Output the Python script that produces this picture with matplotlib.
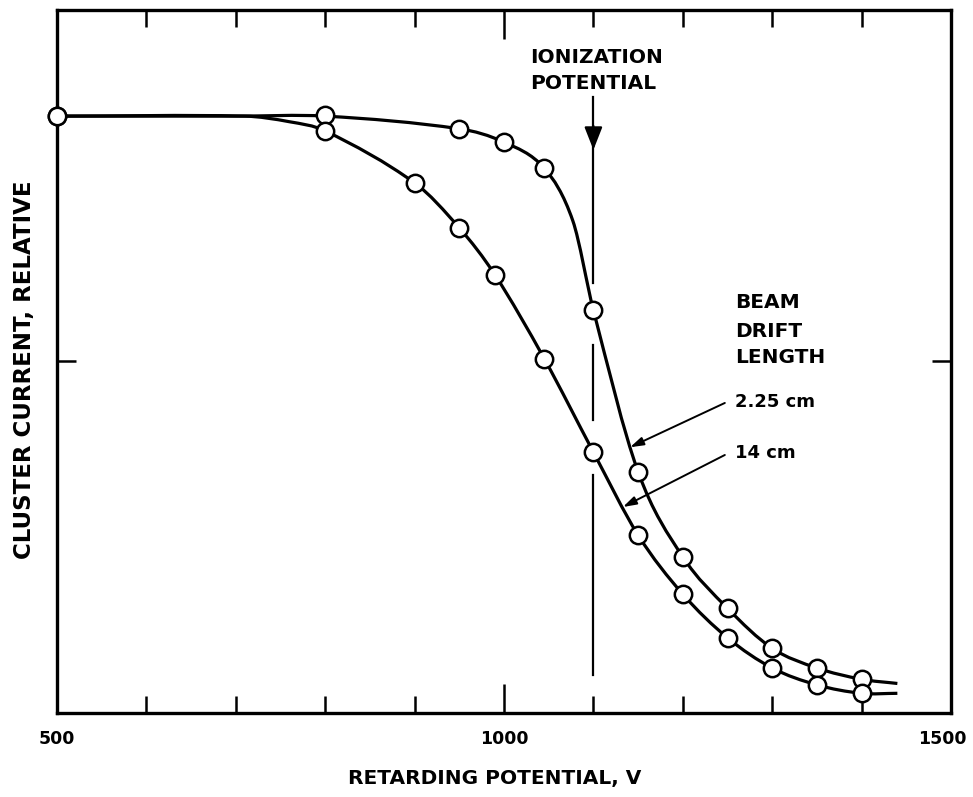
import matplotlib

matplotlib.use("Agg")
import matplotlib.pyplot as plt
import numpy as np
from matplotlib.patches import PathPatch
from matplotlib.path import Path
from matplotlib.transforms import ScaledTranslation

# measured points (retarding potential in V, relative cluster current)
x_short = [500, 800, 950, 1000, 1045, 1100, 1150, 1200, 1250, 1300, 1350, 1400]
y_short = [0.849, 0.850, 0.831, 0.812, 0.775, 0.573, 0.343, 0.222, 0.149, 0.092, 0.064, 0.048]
x_long = [500, 800, 900, 950, 990, 1045, 1100, 1150, 1200, 1250, 1300, 1350, 1400]
y_long = [0.849, 0.828, 0.754, 0.690, 0.623, 0.504, 0.371, 0.253, 0.169, 0.107, 0.064, 0.040, 0.028]

# hand-drawn curves
curve_short_x = [500, 700, 800, 950, 1000, 1045, 1077, 1100, 1150, 1200, 1250, 1300, 1350, 1400, 1440]
curve_short_y = [0.849, 0.849, 0.849, 0.831, 0.812, 0.775, 0.700, 0.573, 0.343, 0.222, 0.149, 0.092, 0.064, 0.048, 0.042]
curve_long_x = [500, 710, 760, 800, 900, 950, 990, 1045, 1100, 1150, 1200, 1250, 1300, 1350, 1400, 1440]
curve_long_y = [0.849, 0.849, 0.841, 0.828, 0.754, 0.690, 0.623, 0.504, 0.371, 0.253, 0.169, 0.107, 0.064, 0.040, 0.028, 0.028]

ionization_v = 1100
tick_values = [500, 1000, 1500]

LABEL_FONT = ["DejaVu Sans"]


def smooth_path(xs, ys):
    # cubic Hermite through the traced points, written as Bezier segments
    x = np.asarray(xs, float)
    y = np.asarray(ys, float)
    m = np.empty_like(y)
    m[1:-1] = (y[2:] - y[:-2]) / (x[2:] - x[:-2])
    m[0] = (y[1] - y[0]) / (x[1] - x[0])
    m[-1] = (y[-1] - y[-2]) / (x[-1] - x[-2])
    verts = [(x[0], y[0])]
    codes = [Path.MOVETO]
    for i in range(len(x) - 1):
        h = (x[i + 1] - x[i]) / 3
        verts += [(x[i] + h, y[i] + m[i] * h), (x[i + 1] - h, y[i + 1] - m[i + 1] * h), (x[i + 1], y[i + 1])]
        codes += [Path.CURVE4] * 3
    return Path(verts, codes)


fig = plt.figure(figsize=(9.73, 7.97), dpi=100)
ax = fig.add_axes([0.0586, 0.1054, 0.9188, 0.8821])

for cx, cy in ((curve_short_x, curve_short_y), (curve_long_x, curve_long_y)):
    ax.add_patch(PathPatch(smooth_path(cx, cy), facecolor="none", edgecolor="black", lw=2.3, zorder=2))

for xs, ys in ((x_short, y_short), (x_long, y_long)):
    ax.plot(xs, ys, linestyle="none", marker="o", ms=12.5, mfc="white", mec="black",
            mew=1.8, zorder=3, clip_on=False)

# ionization potential marker, broken around the data points
for y0, y1 in ((0.612, 0.876), (0.417, 0.523), (0.054, 0.339)):
    ax.plot([ionization_v, ionization_v], [y0, y1], color="black", lw=1.6, zorder=1)
ax.annotate("", xy=(ionization_v, 0.801), xytext=(ionization_v, 0.835),
            arrowprops=dict(arrowstyle="-|>,head_length=1.4,head_width=0.55", color="black",
                            lw=1.6, shrinkA=0, shrinkB=0))

txt = dict(fontsize=14.5, fontweight="bold", family=LABEL_FONT, ha="left", va="baseline")
ax.text(1029, 0.925, "IONIZATION", **txt)
ax.text(1029, 0.888, "POTENTIAL", **txt)
ax.text(1258, 0.576, "BEAM", **txt)
ax.text(1258, 0.535, "DRIFT", **txt)
ax.text(1258, 0.498, "LENGTH", **txt)

small = dict(fontsize=13, fontweight="bold", family=LABEL_FONT, ha="left", va="baseline")
ax.text(1258, 0.435, "2.25 cm", **small)
ax.text(1258, 0.363, "14 cm", **small)
arrow_small = dict(arrowstyle="-|>,head_length=0.8,head_width=0.25", color="black", lw=1.4,
                   shrinkA=0, shrinkB=0)
ax.annotate("", xy=(1141, 0.378), xytext=(1247, 0.441), arrowprops=arrow_small)
ax.annotate("", xy=(1133, 0.293), xytext=(1247, 0.367), arrowprops=arrow_small)

ax.set_xlim(500, 1500)
ax.set_ylim(0, 1)
ax.set_xticks(tick_values)
ax.set_xticklabels([str(v) for v in tick_values], fontsize=12.5, fontweight="bold", family=LABEL_FONT)
ax.set_xticks(np.arange(600, 1500, 100), minor=True)
ax.set_yticks([0.5])
ax.set_yticklabels([])
ax.tick_params(which="both", direction="in", top=True, right=True, width=1.8, color="black")
ax.tick_params(axis="x", which="major", length=21, pad=12)
ax.tick_params(axis="x", which="minor", length=12)
ax.tick_params(axis="y", length=14)
for spine in ax.spines.values():
    spine.set_linewidth(2.4)

# last label sits a little inside the frame in the original
last = ax.get_xticklabels()[-1]
last.set_transform(last.get_transform() + ScaledTranslation(-0.09, 0, fig.dpi_scale_trans))

ax.set_xlabel("RETARDING POTENTIAL, V", fontsize=14.5, fontweight="bold", family=LABEL_FONT)
ax.set_ylabel("CLUSTER CURRENT, RELATIVE", fontsize=16.5, fontweight="bold", family=LABEL_FONT)
ax.xaxis.set_label_coords(0.49, -0.08)
ax.yaxis.set_label_coords(-0.024, 0.488)

fig.savefig("out.png", dpi=100)
